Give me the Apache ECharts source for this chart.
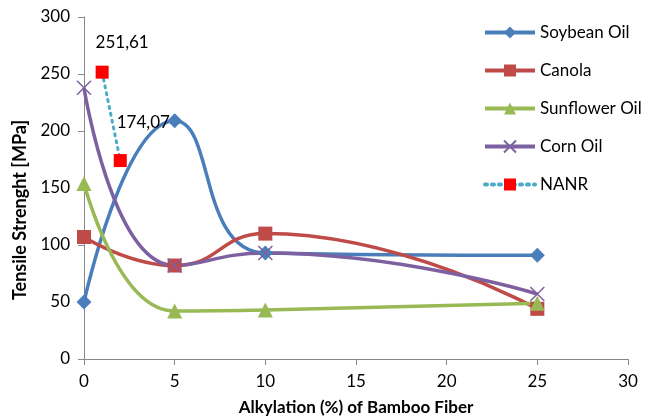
<!DOCTYPE html>
<html><head><meta charset="utf-8">
<script src="https://cdn.jsdelivr.net/npm/echarts@6/dist/echarts.min.js"></script>
<style>html,body{margin:0;padding:0;background:#fff}#c{width:650px;height:416px}</style>
</head><body><div id="c"></div>
<script>
var xs = [0, 5, 10, 25];
var soybean = [50, 209, 93, 91];
var canola = [107, 82, 110, 44];
var sunflower = [154, 42, 43, 49];
var corn = [238, 82, 93, 57];
var nanrX = [1, 2];
var nanr = [251.61, 174.07];
var nanrLabels = ['251,61', '174,07'];

function pts(x, y) { return x.map(function (v, i) { return [v, y[i]]; }); }
var font = 'Lato, "Open Sans", sans-serif';
var chart = echarts.init(document.getElementById('c'));
var xPath = 'path://M0,0L10,10M10,0L0,10';
function line(name, data, color, symbol, size, extra) {
  var s = {
    name: name, type: 'line', data: pts(xs, data), smooth: 0.5,
    symbol: symbol, symbolSize: size,
    lineStyle: { color: color, width: 3.5 },
    itemStyle: { color: color },
    z: 2
  };
  for (var k in extra) s[k] = extra[k];
  return s;
}
chart.setOption({
  animation: false,
  grid: { left: 84, right: 22, top: 17, bottom: 57, outerBoundsMode: 'none', containLabel: false },
  xAxis: {
    type: 'value', min: 0, max: 30, interval: 5,
    name: 'Alkylation (%) of Bamboo Fiber', nameLocation: 'middle', nameGap: 40,
    nameTextStyle: { fontFamily: font, fontWeight: 'bold', fontSize: 17, color: '#000' },
    axisLine: { lineStyle: { color: '#888', width: 1 } },
    axisTick: { show: true, length: 6, lineStyle: { color: '#888' } },
    axisLabel: { fontFamily: font, fontSize: 17, color: '#000', margin: 14 },
    splitLine: { show: false }
  },
  yAxis: {
    type: 'value', min: 0, max: 300, interval: 50,
    name: 'Tensile Strenght [MPa]', nameLocation: 'middle', nameGap: 52,
    nameTextStyle: { fontFamily: font, fontWeight: 'bold', fontSize: 18, color: '#000', padding: [0, 44, 0, 0] },
    axisLine: { show: true, lineStyle: { color: '#888', width: 1 } },
    axisTick: { show: true, length: 6, lineStyle: { color: '#888' } },
    axisLabel: { fontFamily: font, fontSize: 17, color: '#000', margin: 14 },
    splitLine: { show: false }
  },
  legend: {
    orient: 'vertical', left: 478, top: 19, itemGap: 21, itemWidth: 50, itemHeight: 15,
    textStyle: { fontFamily: font, fontSize: 17, color: '#000' },
    lineStyle: { width: 4 },
    data: ['Soybean Oil', 'Canola', 'Sunflower Oil', 'Corn Oil', 'NANR']
  },
  series: [
    line('Soybean Oil', soybean, '#4a7ebb', 'diamond', 15),
    line('Canola', canola, '#be4b48', 'rect', 14),
    line('Sunflower Oil', sunflower, '#98b954', 'triangle', 15),
    line('Corn Oil', corn, '#7d60a0', xPath, 14, {
      itemStyle: { color: 'rgba(0,0,0,0)', borderColor: '#7d60a0', borderWidth: 1.5 }
    }),
    {
      name: 'NANR', type: 'line', data: pts(nanrX, nanr),
      symbol: 'rect', symbolSize: 13,
      lineStyle: { color: '#4bacc6', width: 3, type: [2, 5], cap: 'round' },
      itemStyle: { color: '#ff0000' },
      label: {
        show: true, fontFamily: font, fontSize: 17, color: '#000',
        formatter: function (p) { return nanrLabels[p.dataIndex]; }
      },
      labelLayout: function (p) {
        return p.dataIndex === 0 ? { dx: 20, dy: -10 } : { dx: 23, dy: -18 };
      },
      z: 5
    }
  ]
});
</script></body></html>
